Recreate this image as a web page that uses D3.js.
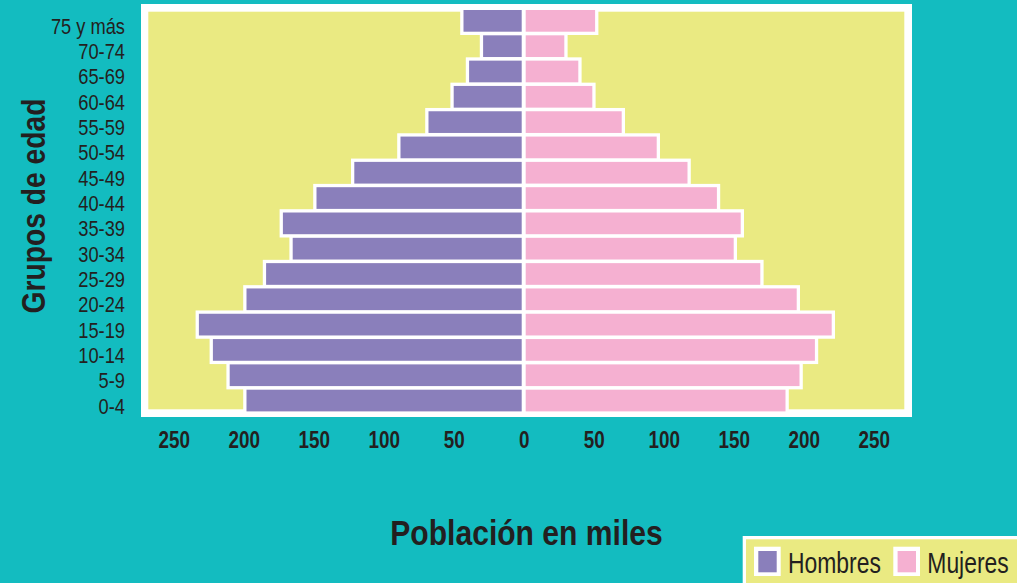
<!DOCTYPE html>
<html>
<head>
<meta charset="utf-8">
<script src="https://cdn.jsdelivr.net/npm/d3@7"></script>
<style>
  html, body { margin: 0; padding: 0; background: #13BCC0; }
  svg { display: block; }
  text { font-family: 'Liberation Sans', Arial, sans-serif; fill: #231F20; }
</style>
</head>
<body>
<svg id="chart" width="1017" height="583"></svg>
<script>
// ---- data (top row first) ----
const ageGroups = ["75 y más","70-74","65-69","60-64","55-59","50-54","45-49","40-44",
                   "35-39","30-34","25-29","20-24","15-19","10-14","5-9","0-4"];
const hombres = [43, 29, 39, 50, 68, 88, 121, 148, 172, 165, 184, 198, 232, 222, 210, 198];
const mujeres = [51, 29, 39, 49, 70, 95, 117, 138, 155, 150, 169, 195, 220, 208, 197, 187];
const tickValues = [-250, -200, -150, -100, -50, 0, 50, 100, 150, 200, 250];
const seriesNames = ["Hombres", "Mujeres"];
const seriesColors = ["#8A7FBB", "#F5B0D1"];

// ---- layout ----
const W = 1017, H = 583;
const bg = "#13BCC0", panel = "#EAEA82";
const svg = d3.select("#chart");
svg.append("rect").attr("width", W).attr("height", H).attr("fill", bg);

const x = d3.scaleLinear().domain([-250, 250]).range([173.7, 873.7]);
const y = d3.scaleBand().domain(ageGroups).range([8.2, 413.2]).paddingInner(0).paddingOuter(0);
const barH = 21.7, halo = 3.3, gap = 2;

// frame
svg.append("rect").attr("x", 141).attr("y", 4).attr("width", 912 - 141).attr("height", 417 - 4).attr("fill", "#fff");
svg.append("rect").attr("x", 148.3).attr("y", 11.7).attr("width", 904.3 - 148.3).attr("height", 409.3 - 11.7).attr("fill", panel);

const rows = ageGroups.map((g, i) => ({ g, h: hombres[i], m: mujeres[i] }));
const cy = d => y(d.g) + y.bandwidth() / 2;

// white halos behind bars
svg.append("g").selectAll("rect").data(rows).join("rect")
  .attr("x", d => x(-d.h) - halo)
  .attr("width", d => x(d.m) - x(-d.h) + 2 * halo)
  .attr("y", d => cy(d) - barH / 2 - halo)
  .attr("height", barH + 2 * halo)
  .attr("fill", "#fff");

// hombres bars
svg.append("g").selectAll("rect").data(rows).join("rect")
  .attr("x", d => x(-d.h))
  .attr("width", d => x(0) - gap - x(-d.h))
  .attr("y", d => cy(d) - barH / 2)
  .attr("height", barH)
  .attr("fill", seriesColors[0]);

// mujeres bars
svg.append("g").selectAll("rect").data(rows).join("rect")
  .attr("x", x(0) + gap)
  .attr("width", d => x(d.m) - x(0) - gap)
  .attr("y", d => cy(d) - barH / 2)
  .attr("height", barH)
  .attr("fill", seriesColors[1]);

// x axis
const xAxis = svg.append("g").attr("transform", "translate(0,429)")
  .call(d3.axisBottom(x).tickValues(tickValues).tickSize(0).tickPadding(3).tickFormat(d => Math.abs(d)));
xAxis.select(".domain").remove();
xAxis.selectAll("text").attr("font-size", 23).attr("font-weight", "bold")
  .attr("transform", "scale(0.82,1)");

// y axis
const yAxis = svg.append("g").attr("transform", "translate(125,5.9)")
  .call(d3.axisLeft(y).tickSize(0).tickPadding(0));
yAxis.select(".domain").remove();
yAxis.selectAll("text").attr("font-size", 22).attr("transform", "scale(0.83,1)");

// titles
svg.append("g").attr("transform", "translate(44.5,206) rotate(-90) scale(0.83,1)")
  .append("text").attr("text-anchor", "middle").attr("font-size", 34).attr("font-weight", "bold")
  .text("Grupos de edad");
svg.append("g").attr("transform", "translate(526.5,545) scale(0.86,1)")
  .append("text").attr("text-anchor", "middle").attr("font-size", 35).attr("font-weight", "bold")
  .text("Población en miles");

// legend
const lg = svg.append("g");
lg.append("rect").attr("x", 742.7).attr("y", 536).attr("width", 300).attr("height", 60).attr("fill", "#fff");
lg.append("rect").attr("x", 746).attr("y", 539.3).attr("width", 300).attr("height", 60).attr("fill", panel);
const legendX = [754, 893.3];
seriesNames.forEach((name, i) => {
  lg.append("rect").attr("x", legendX[i]).attr("y", 546.7).attr("width", 26.7).attr("height", 29.3).attr("fill", "#fff");
  lg.append("rect").attr("x", legendX[i] + 4.3).attr("y", 551).attr("width", 18.4).attr("height", 21.3).attr("fill", seriesColors[i]);
  lg.append("g").attr("transform", `translate(${legendX[i] + 34},573) scale(0.79,1)`)
    .append("text").attr("font-size", 29).text(name);
});
</script>
</body>
</html>
